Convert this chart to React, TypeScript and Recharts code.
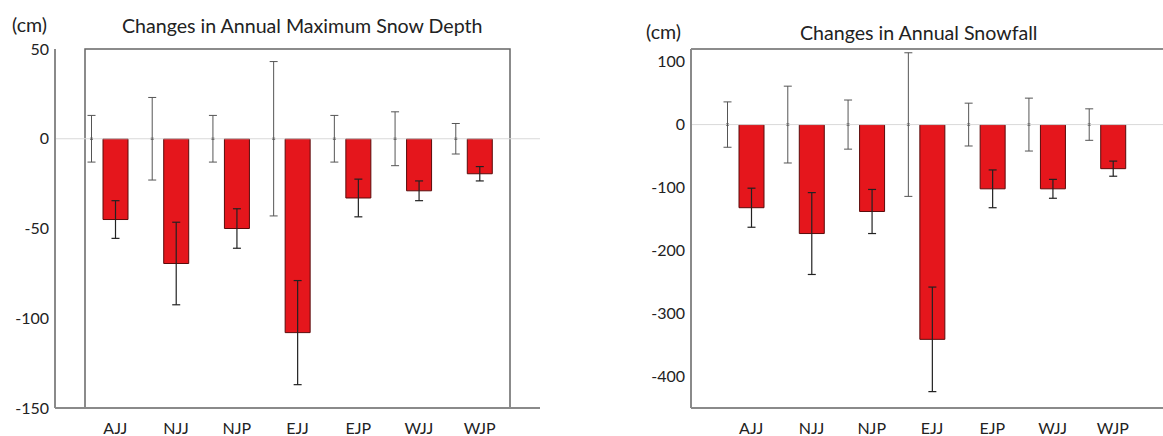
import React from 'react';
import { BarChart, Bar, XAxis, YAxis, ErrorBar, ReferenceLine, ReferenceArea } from 'recharts';

const categories = ['AJJ', 'NJJ', 'NJP', 'EJJ', 'EJP', 'WJJ', 'WJP'];

// Annual maximum snow depth (cm)
const depthChange = [-45, -69.5, -50, -108, -33, -29, -19.5];
const depthChangeErr = [10.5, 23, 11, 29, 10.5, 5.5, 4];
const depthCtrlErr = [13, 23, 13, 43, 13, 15, 8.5];
const depthTicks = [-150, -100, -50, 0, 50];

// Annual snowfall (cm)
const snowfallChange = [-132, -173, -138, -341, -102, -102, -70];
const snowfallChangeErr = [31, 65, 35, 83, 30, 15, 12];
const snowfallCtrlErr = [36, 61, 39, 114, 34, 42, 25];
const snowfallTicks = [-400, -300, -200, -100, 0, 100];

const FONT = 'Lato, "Noto Sans", sans-serif';
const TEXT = '#222';

interface PanelProps {
  change: number[];
  changeErr: number[];
  ctrlErr: number[];
  domain: [number, number];
  ticks: number[];
  left: number;
  width: number;
  yAxisWidth: number;
  marginRight: number;
  closedRight: boolean;
}

// small dot at the centre of the control whisker
const ZeroMark = (props: any) => {
  const { x, y, width } = props;
  if (x == null || y == null) return null;
  return <rect x={x + width / 2 - 1.5} y={y - 1} width={3} height={2} fill="#333" />;
};

const Panel: React.FC<PanelProps> = ({ change, changeErr, ctrlErr, domain, ticks, left, width, yAxisWidth, marginRight, closedRight }) => {
  const data = categories.map((name, i) => ({
    name,
    ctrl: 0,
    ctrlErr: ctrlErr[i],
    change: change[i],
    changeErr: changeErr[i],
  }));

  return (
    <div style={{ position: 'absolute', left, top: 0 }}>
      <BarChart width={width} height={436} data={data} margin={{ top: 49, right: marginRight, bottom: 0, left: 0 }}>
        {/* plot frame (the right panel is cut off at the image edge) */}
        {closedRight ? (
          <ReferenceArea y1={domain[0]} y2={domain[1]} xAxisId="main" yAxisId="main" fill="none" fillOpacity={0} stroke="#666" strokeWidth={1.5} strokeOpacity={1} ifOverflow="visible" />
        ) : (
          <ReferenceLine y={domain[1]} xAxisId="main" yAxisId="main" stroke="#666" strokeWidth={1.5} />
        )}
        <XAxis
          dataKey="name"
          xAxisId="main"
          height={28}
          padding={{ left: 30, right: 30 }}
          stroke="#8a8a8a"
          strokeWidth={2}
          tickLine={false}
          tickSize={6}
          tickMargin={9}
          interval={0}
          tick={{ fill: TEXT, fontSize: 16, fontFamily: FONT }}
        />
        <XAxis dataKey="name" xAxisId="shift" hide padding={{ left: 6, right: 54 }} />
        <YAxis
          yAxisId="main"
          type="number"
          domain={domain}
          ticks={ticks}
          width={yAxisWidth}
          stroke="#8a8a8a"
          strokeWidth={2}
          tickLine={false}
          tickMargin={0}
          tick={{ fill: TEXT, fontSize: 16, fontFamily: FONT }}
        />
        <ReferenceLine y={0} xAxisId="main" yAxisId="main" stroke="#d9d9d9" />
        <Bar dataKey="ctrl" xAxisId="shift" yAxisId="main" barSize={25} fill="none" shape={ZeroMark} isAnimationActive={false}>
          <ErrorBar dataKey="ctrlErr" direction="y" width={4} stroke="#555" strokeWidth={1} />
        </Bar>
        <Bar dataKey="change" xAxisId="main" yAxisId="main" barSize={25} fill="#e5161c" stroke="#5a0b0b" strokeWidth={1} isAnimationActive={false}>
          <ErrorBar dataKey="changeErr" direction="y" width={4} stroke="#222" strokeWidth={1.2} />
        </Bar>
      </BarChart>
    </div>
  );
};

export default function App() {
  return (
    <div style={{ position: 'fixed', left: 0, top: 0, width: 1163, height: 436, overflow: 'hidden', background: '#fff' }}>
      <Panel
        change={depthChange}
        changeErr={depthChangeErr}
        ctrlErr={depthCtrlErr}
        domain={[-150, 50]}
        ticks={depthTicks}
        left={0}
        width={560}
        yAxisWidth={55}
        marginRight={20}
        closedRight={true}
      />
      <Panel
        change={snowfallChange}
        changeErr={snowfallChangeErr}
        ctrlErr={snowfallCtrlErr}
        domain={[-450, 120]}
        ticks={snowfallTicks}
        left={630}
        width={560}
        yAxisWidth={61}
        marginRight={17}
        closedRight={false}
      />
      <svg width={1163} height={436} style={{ position: 'absolute', left: 0, top: 0, pointerEvents: 'none' }}>
        <g fontFamily={FONT} fontSize={19.6} fill={TEXT}>
          <text x={12} y={32}>(cm)</text>
          <text x={122} y={33}>Changes in Annual Maximum Snow Depth</text>
          <text x={646} y={39}>(cm)</text>
          <text x={800} y={40}>Changes in Annual Snowfall</text>
        </g>
      </svg>
    </div>
  );
}
